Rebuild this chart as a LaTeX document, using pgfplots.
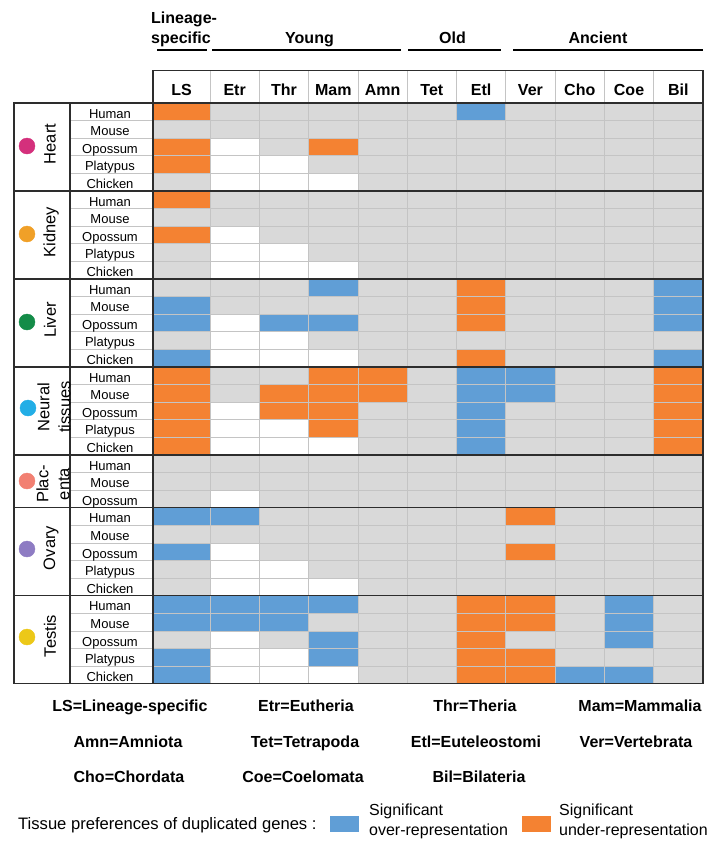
\documentclass[border=0pt]{standalone}
\usepackage{pgfplots}
\pgfplotsset{compat=1.18}
\usepackage{fontspec}
\setmainfont{Liberation Sans}

\definecolor{cellgray}{RGB}{217,217,217}
\definecolor{cellblue}{RGB}{96,158,214}
\definecolor{cellorange}{RGB}{244,130,50}
\definecolor{gridc}{RGB}{196,196,196}
\definecolor{darkline}{RGB}{45,45,45}
\definecolor{cheart}{RGB}{212,48,124}
\definecolor{ckidney}{RGB}{240,160,40}
\definecolor{cliver}{RGB}{20,140,72}
\definecolor{cneural}{RGB}{35,174,230}
\definecolor{cplacenta}{RGB}{242,128,114}
\definecolor{covary}{RGB}{142,124,195}
\definecolor{ctestis}{RGB}{236,200,24}

% species label at baseline y
\newcommand\spc[2]{\node[font=\fontsize{13}{15}\selectfont, anchor=base, inner sep=0] at (110,#1) {#2};}
\newcommand\hdr[2]{\node[font=\fontsize{16}{19}\selectfont\bfseries, anchor=base, inner sep=0] at (#1,95) {#2};}

\begin{document}
\begin{tikzpicture}
\begin{axis}[
    x=1pt, y=1pt, y dir=reverse,
    xmin=0, xmax=713, ymin=0, ymax=841,
    hide axis, clip=false,
    colormap={cells}{rgb255=(255,255,255) rgb255=(217,217,217) rgb255=(96,158,214) rgb255=(244,130,50)},
]
\path (0,0) rectangle (713,841);

% 0 = not tested (white), 1 = n.s. (gray), 2 = over (blue), 3 = under (orange)
% columns: LS Etr Thr Mam Amn Tet Etl Ver Cho Coe Bil ; value sits on the top-left corner of its cell
\addplot[surf, shader=flat corner, mesh/rows=34, mesh/cols=12, point meta=explicit,
    colormap access=direct, draw=gridc, line width=0.8pt] coordinates {
(153,103)[3] (210,103)[1] (259.3,103)[1] (308.6,103)[1] (357.9,103)[1] (407.2,103)[1] (456.5,103)[2] (505.8,103)[1] (555.1,103)[1] (604.4,103)[1] (653.7,103)[1] (703,103)[0]
(153,120.6)[1] (210,120.6)[1] (259.3,120.6)[1] (308.6,120.6)[1] (357.9,120.6)[1] (407.2,120.6)[1] (456.5,120.6)[1] (505.8,120.6)[1] (555.1,120.6)[1] (604.4,120.6)[1] (653.7,120.6)[1] (703,120.6)[0]
(153,138.2)[3] (210,138.2)[0] (259.3,138.2)[1] (308.6,138.2)[3] (357.9,138.2)[1] (407.2,138.2)[1] (456.5,138.2)[1] (505.8,138.2)[1] (555.1,138.2)[1] (604.4,138.2)[1] (653.7,138.2)[1] (703,138.2)[0]
(153,155.8)[3] (210,155.8)[0] (259.3,155.8)[0] (308.6,155.8)[1] (357.9,155.8)[1] (407.2,155.8)[1] (456.5,155.8)[1] (505.8,155.8)[1] (555.1,155.8)[1] (604.4,155.8)[1] (653.7,155.8)[1] (703,155.8)[0]
(153,173.4)[1] (210,173.4)[0] (259.3,173.4)[0] (308.6,173.4)[0] (357.9,173.4)[1] (407.2,173.4)[1] (456.5,173.4)[1] (505.8,173.4)[1] (555.1,173.4)[1] (604.4,173.4)[1] (653.7,173.4)[1] (703,173.4)[0]
(153,191)[3] (210,191)[1] (259.3,191)[1] (308.6,191)[1] (357.9,191)[1] (407.2,191)[1] (456.5,191)[1] (505.8,191)[1] (555.1,191)[1] (604.4,191)[1] (653.7,191)[1] (703,191)[0]
(153,208.6)[1] (210,208.6)[1] (259.3,208.6)[1] (308.6,208.6)[1] (357.9,208.6)[1] (407.2,208.6)[1] (456.5,208.6)[1] (505.8,208.6)[1] (555.1,208.6)[1] (604.4,208.6)[1] (653.7,208.6)[1] (703,208.6)[0]
(153,226.2)[3] (210,226.2)[0] (259.3,226.2)[1] (308.6,226.2)[1] (357.9,226.2)[1] (407.2,226.2)[1] (456.5,226.2)[1] (505.8,226.2)[1] (555.1,226.2)[1] (604.4,226.2)[1] (653.7,226.2)[1] (703,226.2)[0]
(153,243.8)[1] (210,243.8)[0] (259.3,243.8)[0] (308.6,243.8)[1] (357.9,243.8)[1] (407.2,243.8)[1] (456.5,243.8)[1] (505.8,243.8)[1] (555.1,243.8)[1] (604.4,243.8)[1] (653.7,243.8)[1] (703,243.8)[0]
(153,261.4)[1] (210,261.4)[0] (259.3,261.4)[0] (308.6,261.4)[0] (357.9,261.4)[1] (407.2,261.4)[1] (456.5,261.4)[1] (505.8,261.4)[1] (555.1,261.4)[1] (604.4,261.4)[1] (653.7,261.4)[1] (703,261.4)[0]
(153,279)[1] (210,279)[1] (259.3,279)[1] (308.6,279)[2] (357.9,279)[1] (407.2,279)[1] (456.5,279)[3] (505.8,279)[1] (555.1,279)[1] (604.4,279)[1] (653.7,279)[2] (703,279)[0]
(153,296.6)[2] (210,296.6)[1] (259.3,296.6)[1] (308.6,296.6)[1] (357.9,296.6)[1] (407.2,296.6)[1] (456.5,296.6)[3] (505.8,296.6)[1] (555.1,296.6)[1] (604.4,296.6)[1] (653.7,296.6)[2] (703,296.6)[0]
(153,314.2)[2] (210,314.2)[0] (259.3,314.2)[2] (308.6,314.2)[2] (357.9,314.2)[1] (407.2,314.2)[1] (456.5,314.2)[3] (505.8,314.2)[1] (555.1,314.2)[1] (604.4,314.2)[1] (653.7,314.2)[2] (703,314.2)[0]
(153,331.8)[1] (210,331.8)[0] (259.3,331.8)[0] (308.6,331.8)[1] (357.9,331.8)[1] (407.2,331.8)[1] (456.5,331.8)[1] (505.8,331.8)[1] (555.1,331.8)[1] (604.4,331.8)[1] (653.7,331.8)[1] (703,331.8)[0]
(153,349.4)[2] (210,349.4)[0] (259.3,349.4)[0] (308.6,349.4)[0] (357.9,349.4)[1] (407.2,349.4)[1] (456.5,349.4)[3] (505.8,349.4)[1] (555.1,349.4)[1] (604.4,349.4)[1] (653.7,349.4)[2] (703,349.4)[0]
(153,367)[3] (210,367)[1] (259.3,367)[1] (308.6,367)[3] (357.9,367)[3] (407.2,367)[1] (456.5,367)[2] (505.8,367)[2] (555.1,367)[1] (604.4,367)[1] (653.7,367)[3] (703,367)[0]
(153,384.6)[3] (210,384.6)[1] (259.3,384.6)[3] (308.6,384.6)[3] (357.9,384.6)[3] (407.2,384.6)[1] (456.5,384.6)[2] (505.8,384.6)[2] (555.1,384.6)[1] (604.4,384.6)[1] (653.7,384.6)[3] (703,384.6)[0]
(153,402.2)[3] (210,402.2)[0] (259.3,402.2)[3] (308.6,402.2)[3] (357.9,402.2)[1] (407.2,402.2)[1] (456.5,402.2)[2] (505.8,402.2)[1] (555.1,402.2)[1] (604.4,402.2)[1] (653.7,402.2)[3] (703,402.2)[0]
(153,419.8)[3] (210,419.8)[0] (259.3,419.8)[0] (308.6,419.8)[3] (357.9,419.8)[1] (407.2,419.8)[1] (456.5,419.8)[2] (505.8,419.8)[1] (555.1,419.8)[1] (604.4,419.8)[1] (653.7,419.8)[3] (703,419.8)[0]
(153,437.4)[3] (210,437.4)[0] (259.3,437.4)[0] (308.6,437.4)[0] (357.9,437.4)[1] (407.2,437.4)[1] (456.5,437.4)[2] (505.8,437.4)[1] (555.1,437.4)[1] (604.4,437.4)[1] (653.7,437.4)[3] (703,437.4)[0]
(153,455)[1] (210,455)[1] (259.3,455)[1] (308.6,455)[1] (357.9,455)[1] (407.2,455)[1] (456.5,455)[1] (505.8,455)[1] (555.1,455)[1] (604.4,455)[1] (653.7,455)[1] (703,455)[0]
(153,472.6)[1] (210,472.6)[1] (259.3,472.6)[1] (308.6,472.6)[1] (357.9,472.6)[1] (407.2,472.6)[1] (456.5,472.6)[1] (505.8,472.6)[1] (555.1,472.6)[1] (604.4,472.6)[1] (653.7,472.6)[1] (703,472.6)[0]
(153,490.2)[1] (210,490.2)[0] (259.3,490.2)[1] (308.6,490.2)[1] (357.9,490.2)[1] (407.2,490.2)[1] (456.5,490.2)[1] (505.8,490.2)[1] (555.1,490.2)[1] (604.4,490.2)[1] (653.7,490.2)[1] (703,490.2)[0]
(153,507.8)[2] (210,507.8)[2] (259.3,507.8)[1] (308.6,507.8)[1] (357.9,507.8)[1] (407.2,507.8)[1] (456.5,507.8)[1] (505.8,507.8)[3] (555.1,507.8)[1] (604.4,507.8)[1] (653.7,507.8)[1] (703,507.8)[0]
(153,525.4)[1] (210,525.4)[1] (259.3,525.4)[1] (308.6,525.4)[1] (357.9,525.4)[1] (407.2,525.4)[1] (456.5,525.4)[1] (505.8,525.4)[1] (555.1,525.4)[1] (604.4,525.4)[1] (653.7,525.4)[1] (703,525.4)[0]
(153,543)[2] (210,543)[0] (259.3,543)[1] (308.6,543)[1] (357.9,543)[1] (407.2,543)[1] (456.5,543)[1] (505.8,543)[3] (555.1,543)[1] (604.4,543)[1] (653.7,543)[1] (703,543)[0]
(153,560.6)[1] (210,560.6)[0] (259.3,560.6)[0] (308.6,560.6)[1] (357.9,560.6)[1] (407.2,560.6)[1] (456.5,560.6)[1] (505.8,560.6)[1] (555.1,560.6)[1] (604.4,560.6)[1] (653.7,560.6)[1] (703,560.6)[0]
(153,578.2)[1] (210,578.2)[0] (259.3,578.2)[0] (308.6,578.2)[0] (357.9,578.2)[1] (407.2,578.2)[1] (456.5,578.2)[1] (505.8,578.2)[1] (555.1,578.2)[1] (604.4,578.2)[1] (653.7,578.2)[1] (703,578.2)[0]
(153,595.8)[2] (210,595.8)[2] (259.3,595.8)[2] (308.6,595.8)[2] (357.9,595.8)[1] (407.2,595.8)[1] (456.5,595.8)[3] (505.8,595.8)[3] (555.1,595.8)[1] (604.4,595.8)[2] (653.7,595.8)[1] (703,595.8)[0]
(153,613.4)[2] (210,613.4)[2] (259.3,613.4)[2] (308.6,613.4)[1] (357.9,613.4)[1] (407.2,613.4)[1] (456.5,613.4)[3] (505.8,613.4)[3] (555.1,613.4)[1] (604.4,613.4)[2] (653.7,613.4)[1] (703,613.4)[0]
(153,631)[1] (210,631)[0] (259.3,631)[1] (308.6,631)[2] (357.9,631)[1] (407.2,631)[1] (456.5,631)[3] (505.8,631)[1] (555.1,631)[1] (604.4,631)[2] (653.7,631)[1] (703,631)[0]
(153,648.6)[2] (210,648.6)[0] (259.3,648.6)[0] (308.6,648.6)[2] (357.9,648.6)[1] (407.2,648.6)[1] (456.5,648.6)[3] (505.8,648.6)[3] (555.1,648.6)[1] (604.4,648.6)[1] (653.7,648.6)[1] (703,648.6)[0]
(153,666.2)[2] (210,666.2)[0] (259.3,666.2)[0] (308.6,666.2)[0] (357.9,666.2)[1] (407.2,666.2)[1] (456.5,666.2)[3] (505.8,666.2)[3] (555.1,666.2)[2] (604.4,666.2)[2] (653.7,666.2)[1] (703,666.2)[0]
(153,683.8)[0] (210,683.8)[0] (259.3,683.8)[0] (308.6,683.8)[0] (357.9,683.8)[0] (407.2,683.8)[0] (456.5,683.8)[0] (505.8,683.8)[0] (555.1,683.8)[0] (604.4,683.8)[0] (653.7,683.8)[0] (703,683.8)[0]
};

% tissue dots
\addplot[only marks, mark=*, mark size=8pt, color=cheart] coordinates {(27,146)};
\addplot[only marks, mark=*, mark size=8pt, color=ckidney] coordinates {(27,234)};
\addplot[only marks, mark=*, mark size=8pt, color=cliver] coordinates {(27,322)};
\addplot[only marks, mark=*, mark size=8pt, color=cneural] coordinates {(28,408)};
\addplot[only marks, mark=*, mark size=8pt, color=cplacenta] coordinates {(27,481)};
\addplot[only marks, mark=*, mark size=8pt, color=covary] coordinates {(27,549)};
\addplot[only marks, mark=*, mark size=8pt, color=ctestis] coordinates {(27,637)};

% legend boxes
\addplot[fill=cellblue, draw=none] coordinates {(330,816) (359,816) (359,832) (330,832)} --cycle;
\addplot[fill=cellorange, draw=none] coordinates {(522,816) (551,816) (551,832) (522,832)} --cycle;

% species column separators
\pgfplotsinvokeforeach{120.6,138.2,155.8,173.4,208.6,226.2,243.8,261.4,296.6,314.2,331.8,349.4,384.6,402.2,419.8,437.4,472.6,490.2,525.4,543,560.6,578.2,613.4,631,648.6,666.2}
  {\draw[gridc, line width=0.8pt] (70,#1) -- (152,#1);}

% header box
\pgfplotsinvokeforeach{210,259.3,308.6,357.9,407.2,456.5,505.8,555.1,604.4,653.7}
  {\draw[gridc, line width=0.8pt] (#1,71) -- (#1,103);}
\draw[darkline, line width=1.2pt] (153,103) -- (153,70.7) -- (703,70.7) -- (703,103);

% table frame and group separators
\draw[darkline, line width=1.2pt] (14,103) rectangle (703,683.8);
\pgfplotsinvokeforeach{191,279,367,455,507.8,595.8}
  {\draw[darkline, line width=1.2pt] (14,#1) -- (703,#1);}
\draw[darkline, line width=1.2pt] (70,103) -- (70,683.8);
\draw[darkline, line width=1.2pt] (153,70.7) -- (153,683.8);

% group bars and labels
\draw[black, line width=2.7pt] (157,50) -- (207,50);
\draw[black, line width=2.7pt] (212,50) -- (401,50);
\draw[black, line width=2.7pt] (408,50) -- (501,50);
\draw[black, line width=2.7pt] (513,50) -- (703,50);
\node[font=\fontsize{16}{19}\selectfont\bfseries, anchor=base west, inner sep=0] at (151,23) {Lineage-};
\node[font=\fontsize{16}{19}\selectfont\bfseries, anchor=base west, inner sep=0] at (151,43) {specific};
\node[font=\fontsize{16}{19}\selectfont\bfseries, anchor=base, inner sep=0] at (309.5,43) {Young};
\node[font=\fontsize{16}{19}\selectfont\bfseries, anchor=base, inner sep=0] at (452.5,43) {Old};
\node[font=\fontsize{16}{19}\selectfont\bfseries, anchor=base, inner sep=0] at (598,43) {Ancient};

% column headers
\hdr{181.5}{LS}
\hdr{234.65}{Etr}
\hdr{283.95}{Thr}
\hdr{333.25}{Mam}
\hdr{382.55}{Amn}
\hdr{431.85}{Tet}
\hdr{481.15}{Etl}
\hdr{530.45}{Ver}
\hdr{579.75}{Cho}
\hdr{629.05}{Coe}
\hdr{678.35}{Bil}

% tissue labels
\node[font=\fontsize{16.5}{21}\selectfont, rotate=90, inner sep=0] at (50,144) {Heart};
\node[font=\fontsize{16.5}{21}\selectfont, rotate=90, inner sep=0] at (51,232) {Kidney};
\node[font=\fontsize{16.5}{21}\selectfont, rotate=90, inner sep=0] at (50,320) {Liver};
\node[font=\fontsize{16.5}{21}\selectfont, rotate=90, inner sep=0, align=center] at (54,407) {Neural\\tissues};
\node[font=\fontsize{16.5}{21}\selectfont, rotate=90, inner sep=0, align=center] at (53,484) {Plac-\\enta};
\node[font=\fontsize{16.5}{21}\selectfont, rotate=90, inner sep=0] at (51,548) {Ovary};
\node[font=\fontsize{16.5}{21}\selectfont, rotate=90, inner sep=0] at (50,636) {Testis};

% species labels
\spc{118}{Human}\spc{135.6}{Mouse}\spc{153.2}{Opossum}\spc{170.8}{Platypus}\spc{188.4}{Chicken}
\spc{206}{Human}\spc{223.6}{Mouse}\spc{241.2}{Opossum}\spc{258.8}{Platypus}\spc{276.4}{Chicken}
\spc{294}{Human}\spc{311.6}{Mouse}\spc{329.2}{Opossum}\spc{346.8}{Platypus}\spc{364.4}{Chicken}
\spc{382}{Human}\spc{399.6}{Mouse}\spc{417.2}{Opossum}\spc{434.8}{Platypus}\spc{452.4}{Chicken}
\spc{470}{Human}\spc{487.6}{Mouse}\spc{505.2}{Opossum}
\spc{522.8}{Human}\spc{540.4}{Mouse}\spc{558}{Opossum}\spc{575.6}{Platypus}\spc{593.2}{Chicken}
\spc{610.8}{Human}\spc{628.4}{Mouse}\spc{646}{Opossum}\spc{663.6}{Platypus}\spc{681.2}{Chicken}

% abbreviations
\begin{scope}[every node/.style={font=\fontsize{16}{19}\selectfont\bfseries, anchor=base, inner sep=0}]
\node at (130,711) {LS=Lineage-specific};
\node at (306,711) {Etr=Eutheria};
\node at (475,711) {Thr=Theria};
\node at (640,711) {Mam=Mammalia};
\node at (128,747) {Amn=Amniota};
\node at (305,747) {Tet=Tetrapoda};
\node at (476,747) {Etl=Euteleostomi};
\node at (636,747) {Ver=Vertebrata};
\node at (129,782) {Cho=Chordata};
\node at (303,782) {Coe=Coelomata};
\node at (479,782) {Bil=Bilateria};
\end{scope}

% legend text
\node[font=\fontsize{16.6}{19}\selectfont, anchor=base west, inner sep=0] at (18,829) {Tissue preferences of duplicated genes :};
\begin{scope}[every node/.style={font=\fontsize{16}{19}\selectfont, anchor=base west, inner sep=0}]
\node at (369,815) {Significant};
\node at (369,835) {over-representation};
\node at (559,815) {Significant};
\node at (559,835) {under-representation};
\end{scope}
\end{axis}
\end{tikzpicture}
\end{document}
